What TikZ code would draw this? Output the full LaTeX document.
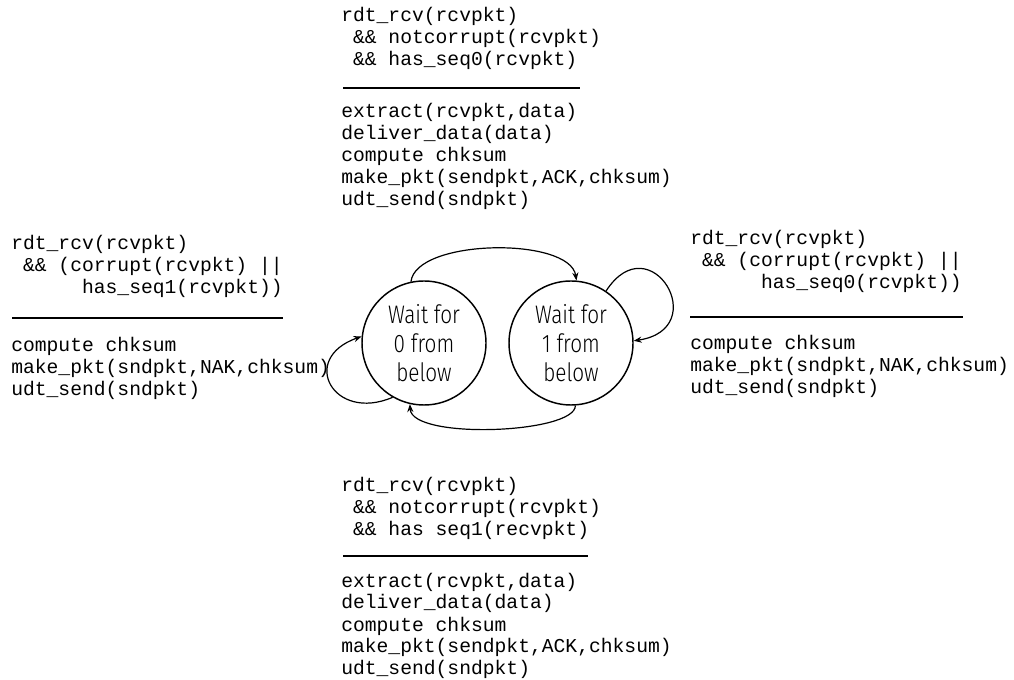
\documentclass[tikz,border=0pt]{standalone}
\usepackage{fontspec}
\usetikzlibrary{arrows.meta}
\newfontfamily\codefont{Liberation Mono}
\newfontfamily\statefont{Fira Sans Light}[FakeStretch=0.82]
% one line of a code block, and leading indentation counted in characters
\newcommand\codeln[1]{\hbox{#1}}
\newcommand\ind[1]{\hspace*{#1\fontcharwd\font`\x}}
\begin{document}
\begin{tikzpicture}[x=0.75pt,y=-0.75pt,
  codetext/.style={anchor=base west, inner sep=0pt,
    font=\codefont\fontsize{14.75pt}{16.5pt}\selectfont},
  waitstate/.style={circle, draw, line width=1.1pt, minimum size=93pt,
    inner sep=0pt, align=center,
    font=\statefont\fontsize{19pt}{21.75pt}\selectfont},
  sepline/.style={line width=0.9pt},
  trans/.style={line width=0.9pt, -{Stealth[length=6pt,width=4.6pt]}}]
\useasboundingbox (0,0) rectangle (1014,680);

% states
\node[waitstate] (s0) at (424,343) {Wait for\\0 from\\below};
\node[waitstate] (s1) at (571,343) {Wait for\\1 from\\below};

% transitions
\draw[trans] (s0.102) .. controls +(5,-43) and +(-6.5,-44) .. (s1.85);
\draw[trans] (s1.274) .. controls +(0,28) and +(2,36) .. (s0.257);
\draw[trans] (s0.240) .. controls +(-59.5,25.4) and +(-63,22) .. (s0.174);
\draw[trans] (s1.56) .. controls +(44,-68) and +(80,-12) .. (s1.2);

% top: Wait for 0 -> Wait for 1
\node[codetext] (g01) at (341,22) {\vtop{%
  \codeln{rdt\_rcv(rcvpkt)}
  \codeln{\ind{1}\&\& notcorrupt(rcvpkt)}
  \codeln{\ind{1}\&\& has\_seq0(rcvpkt)}}};
\coordinate (r01a) at (343,88);
\coordinate (r01b) at (580,88);
\draw[sepline] (r01a) -- (r01b);
\node[codetext] (a01) at (341,118) {\vtop{%
  \codeln{extract(rcvpkt,data)}
  \codeln{deliver\_data(data)}
  \codeln{compute chksum}
  \codeln{make\_pkt(sendpkt,ACK,chksum)}
  \codeln{udt\_send(sndpkt)}}};

% left: Wait for 0 self loop
\node[codetext] (g00) at (11,250) {\vtop{%
  \codeln{rdt\_rcv(rcvpkt)}
  \codeln{\ind{1}\&\& (corrupt(rcvpkt) ||}
  \codeln{\ind{6}has\_seq1(rcvpkt))}}};
\coordinate (r00a) at (12,318);
\coordinate (r00b) at (283,318);
\draw[sepline] (r00a) -- (r00b);
\node[codetext] (a00) at (11,352) {\vtop{%
  \codeln{compute chksum}
  \codeln{make\_pkt(sndpkt,NAK,chksum)}
  \codeln{udt\_send(sndpkt)}}};

% right: Wait for 1 self loop
\node[codetext] (g11) at (690,245) {\vtop{%
  \codeln{rdt\_rcv(rcvpkt)}
  \codeln{\ind{1}\&\& (corrupt(rcvpkt) ||}
  \codeln{\ind{6}has\_seq0(rcvpkt))}}};
\coordinate (r11a) at (690,317);
\coordinate (r11b) at (963,317);
\draw[sepline] (r11a) -- (r11b);
\node[codetext] (a11) at (690,350) {\vtop{%
  \codeln{compute chksum}
  \codeln{make\_pkt(sndpkt,NAK,chksum)}
  \codeln{udt\_send(sndpkt)}}};

% bottom: Wait for 1 -> Wait for 0
\node[codetext] (g10) at (341,492) {\vtop{%
  \codeln{rdt\_rcv(rcvpkt)}
  \codeln{\ind{1}\&\& notcorrupt(rcvpkt)}
  \codeln{\ind{1}\&\& has seq1(recvpkt)}}};
\coordinate (r10a) at (343,556);
\coordinate (r10b) at (588,556);
\draw[sepline] (r10a) -- (r10b);
\node[codetext] (a10) at (341,587) {\vtop{%
  \codeln{extract(rcvpkt,data)}
  \codeln{deliver\_data(data)}
  \codeln{compute chksum}
  \codeln{make\_pkt(sendpkt,ACK,chksum)}
  \codeln{udt\_send(sndpkt)}}};
\end{tikzpicture}
\end{document}
